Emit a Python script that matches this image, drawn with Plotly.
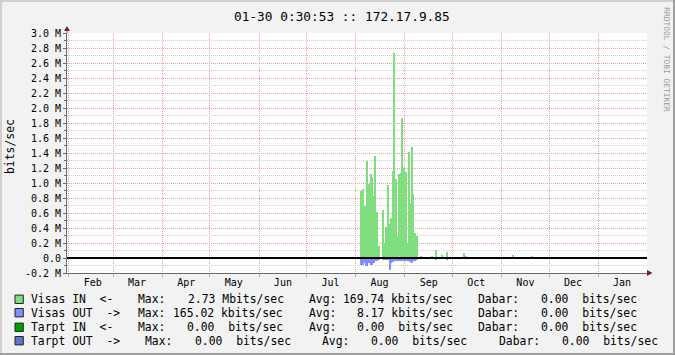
import plotly.graph_objects as go

# ---------------- data (Mbit/s, daily values) ----------------
cluster_days = [
    "2013-08-04", "2013-08-05", "2013-08-06", "2013-08-07", "2013-08-08", "2013-08-09",
    "2013-08-10", "2013-08-11", "2013-08-12", "2013-08-13", "2013-08-14", "2013-08-15",
    "2013-08-16", "2013-08-17", "2013-08-18", "2013-08-19", "2013-08-20", "2013-08-21",
    "2013-08-22", "2013-08-23", "2013-08-24", "2013-08-25", "2013-08-26", "2013-08-27",
    "2013-08-28", "2013-08-29", "2013-08-30", "2013-08-31", "2013-09-01", "2013-09-02",
    "2013-09-03", "2013-09-04", "2013-09-05", "2013-09-06", "2013-09-07", "2013-09-08",
]
visas_in_cluster = [
    0.90, 0.92, 0.70, 0.71, 1.30, 0.99, 1.12, 1.08, 0.83, 1.36, 0.61, 0.16,
    0.00, 0.00, 0.64, 0.20, 0.41, 0.97, 0.46, 0.53, 1.16, 2.73, 1.05, 0.29,
    1.12, 1.13, 1.87, 1.20, 1.15, 0.20, 1.41, 0.74, 1.48, 0.85, 0.33, 0.30,
]
visas_out_cluster = [
    0.09, 0.09, 0.06, 0.10, 0.10, 0.06, 0.09, 0.09, 0.06, 0.04, 0.04, 0.03,
    0.00, 0.00, 0.02, 0.02, 0.025, 0.03, 0.165, 0.06, 0.05, 0.04, 0.035, 0.035,
    0.035, 0.035, 0.04, 0.04, 0.04, 0.04, 0.04, 0.05, 0.06, 0.04, 0.035, 0.03,
]
extra_in_days = ["2013-09-11", "2013-09-16", "2013-09-18", "2013-09-20", "2013-09-24",
                 "2013-09-27", "2013-10-08", "2013-10-09", "2013-11-08", "2013-11-20"]
extra_in_vals = [0.02, 0.01, 0.02, 0.11, 0.04, 0.08, 0.07, 0.02, 0.04, 0.02]
extra_out_days = ["2013-09-20", "2013-09-27"]
extra_out_vals = [0.02, 0.03]

month_ticks = ["2013-02-16", "2013-03-16", "2013-04-16", "2013-05-16", "2013-06-16",
               "2013-07-16", "2013-08-16", "2013-09-16", "2013-10-16", "2013-11-16",
               "2013-12-16", "2014-01-16"]
month_labels = ["Feb", "Mar", "Apr", "May", "Jun", "Jul", "Aug", "Sep", "Oct", "Nov", "Dec", "Jan"]

y_ticks = [-0.2, 0.0, 0.2, 0.4, 0.6, 0.8, 1.0, 1.2, 1.4, 1.6, 1.8, 2.0, 2.2, 2.4, 2.6, 2.8, 3.0]
y_labels = ["-0.2 M", "0.0", "0.2 M", "0.4 M", "0.6 M", "0.8 M", "1.0 M", "1.2 M", "1.4 M",
            "1.6 M", "1.8 M", "2.0 M", "2.2 M", "2.4 M", "2.6 M", "2.8 M", "3.0 M"]

series_names = ["Visas IN  <-", "Visas OUT  ->", "Tarpt IN  <-", "Tarpt OUT  ->"]
series_colors = ["#7FDF7F", "#7F8FFF", "#00A000", "#5B78C8"]
max_vals = [2.73, 165.02, 0.00, 0.00]
max_pref = ["M", "k", "", ""]
avg_vals = [169.74, 8.17, 0.00, 0.00]
avg_pref = ["k", "k", "", ""]
cur_vals = [0.00, 0.00, 0.00, 0.00]
cur_pref = ["", "", "", ""]

title_text = "01-30 0:30:53 :: 172.17.9.85"

# ---------------- layout geometry ----------------
W, H = 675, 355
L, R, T, B = 67, 647, 33, 273
MONO = "DejaVu Sans Mono"
MGRID = "rgb(230,160,160)"
GRID = "rgb(208,208,208)"
AXIS = "#6A6A6A"


def fx(px):
    return (px - L) / (R - L)


def fy(py):
    return (B - py) / (B - T)


def unit(v, p):
    return "%.2f %sbits/sec" % (v, p if p else " ")


def nb(s):
    return s.replace(" ", "\u00a0")


fig = go.Figure()
fig.add_trace(go.Bar(x=cluster_days + extra_in_days, y=visas_in_cluster + extra_in_vals,
                     marker=dict(color=series_colors[0], line=dict(width=0)),
                     width=86400000, offset=0, name=series_names[0]))
fig.add_trace(go.Bar(x=cluster_days + extra_out_days,
                     y=[-v for v in visas_out_cluster + extra_out_vals],
                     marker=dict(color=series_colors[1], line=dict(width=0)),
                     width=86400000, offset=0, name=series_names[1]))

shapes = []
ann = []

# zero line
shapes.append(dict(type="line", xref="paper", yref="y", x0=0, x1=1, y0=0, y1=0,
                   line=dict(color="black", width=2), layer="above"))
# axis extension + arrows
shapes.append(dict(type="line", xref="paper", yref="paper", x0=fx(L), x1=fx(L), y0=fy(T), y1=fy(29),
                   line=dict(color=AXIS, width=1)))
shapes.append(dict(type="path", xref="paper", yref="paper", fillcolor="#801F1F", line=dict(width=0),
                   path="M %f,%f L %f,%f L %f,%f Z" % (fx(L - 3), fy(31), fx(L + 3), fy(31), fx(L), fy(26))))
shapes.append(dict(type="path", xref="paper", yref="paper", fillcolor="#801F1F", line=dict(width=0),
                   path="M %f,%f L %f,%f L %f,%f Z" % (fx(647), fy(B - 3), fx(647), fy(B + 3), fx(652.5), fy(B))))

# outer frame
shapes.append(dict(type="rect", xref="paper", yref="paper", x0=fx(0), x1=fx(W), y0=fy(0), y1=fy(2),
                   fillcolor="#CFCFCF", line=dict(width=0)))
shapes.append(dict(type="rect", xref="paper", yref="paper", x0=fx(0), x1=fx(2), y0=fy(0), y1=fy(H),
                   fillcolor="#CFCFCF", line=dict(width=0)))
shapes.append(dict(type="rect", xref="paper", yref="paper", x0=fx(0), x1=fx(W), y0=fy(H - 2), y1=fy(H),
                   fillcolor="#9E9E9E", line=dict(width=0)))
shapes.append(dict(type="rect", xref="paper", yref="paper", x0=fx(W - 2), x1=fx(W), y0=fy(0), y1=fy(H),
                   fillcolor="#9E9E9E", line=dict(width=0)))

# legend rows
row_y = [299.3, 312.7, 327.3, 340.7]
row_x = [
    [30.2, 136.8, 186.5, 307.8, 341.8, 477.2, 540.2],
    [30.2, 136.8, 172.2, 307.8, 356.2, 477.2, 540.2],
    [30.2, 136.8, 186.2, 307.8, 356.2, 477.2, 540.2],
    [30.2, 143.8, 193.5, 321.2, 370.2, 497.8, 561.2],
]
for i in range(4):
    yc = row_y[i]
    shapes.append(dict(type="rect", xref="paper", yref="paper",
                       x0=fx(15), x1=fx(23.3), y0=fy(yc - 4.2), y1=fy(yc + 4.2),
                       fillcolor=series_colors[i], line=dict(color="#222222", width=1)))
    segs = [series_names[i], "Max:", unit(max_vals[i], max_pref[i]), "Avg:",
            unit(avg_vals[i], avg_pref[i]), "Dabar:", unit(cur_vals[i], cur_pref[i])]
    for s, xp in zip(segs, row_x[i]):
        ann.append(dict(text=nb(s), xref="paper", yref="paper", x=fx(xp), y=fy(yc),
                        xanchor="left", yanchor="middle", showarrow=False, borderpad=0,
                        font=dict(family=MONO, size=11.4, color="black")))

# unit label, title, watermark
ann.append(dict(text="bits/sec", xref="paper", yref="paper", x=fx(10), y=fy(147), textangle=-90,
                xanchor="center", yanchor="middle", showarrow=False,
                font=dict(family=MONO, size=11.4, color="black")))
ann.append(dict(text=nb(title_text), xref="paper", yref="paper", x=fx(341.5), y=fy(16),
                xanchor="center", yanchor="middle", showarrow=False,
                font=dict(family=MONO, size=12.8, color="black")))
ann.append(dict(text=nb("RRDTOOL / TOBI OETIKER"), xref="paper", yref="paper", x=fx(666.7), y=fy(60),
                textangle=90, xanchor="center", yanchor="middle", showarrow=False,
                font=dict(family=MONO, size=7.9, color="#9A9A9A")))

fig.update_layout(
    width=W, height=H,
    margin=dict(l=L, r=W - R, t=T, b=H - B, pad=0),
    paper_bgcolor="#F2F2F2", plot_bgcolor="#FFFFFF",
    showlegend=False, barmode="overlay", bargap=0,
    shapes=shapes, annotations=ann,
    xaxis=dict(type="date", range=["2013-01-30 19:00", "2014-01-31 17:20"],
               tickmode="array", tickvals=month_ticks, ticktext=month_labels,
               ticks="", showgrid=False, showline=True, linecolor=AXIS, linewidth=1,
               zeroline=False, layer="above traces",
               tickfont=dict(family=MONO, size=10, color="black"),
               minor=dict(dtick="M1", tick0="2013-01-01", showgrid=True, gridcolor=MGRID,
                          griddash="1px,1px", gridwidth=1, ticks="outside", ticklen=3,
                          tickcolor=MGRID)),
    yaxis=dict(range=[-0.2, 3.0], tickmode="array", tickvals=y_ticks, ticktext=y_labels,
               ticks="outside", ticklen=3, tickcolor=AXIS, showline=True, linecolor=AXIS,
               linewidth=1, zeroline=False, layer="above traces",
               showgrid=True, gridcolor=MGRID, griddash="1px,1px", gridwidth=1,
               tickfont=dict(family=MONO, size=10, color="black"),
               minor=dict(dtick=0.1, tick0=0, showgrid=True, gridcolor=GRID,
                          griddash="1px,1px", gridwidth=1, ticks="outside", ticklen=2,
                          tickcolor=AXIS)),
)

fig.write_html("out.html")
